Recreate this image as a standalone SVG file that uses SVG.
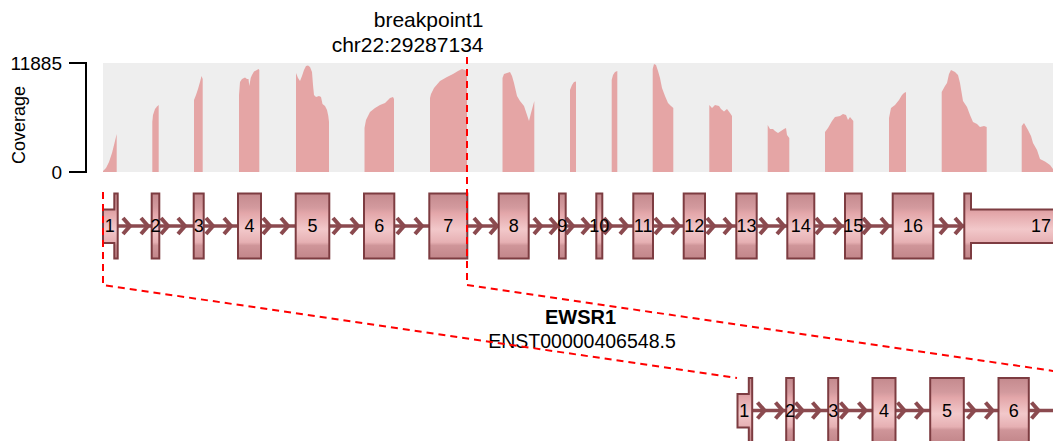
<svg xmlns="http://www.w3.org/2000/svg" width="1053" height="441" viewBox="0 0 1053 441">
<defs>
<style>
text{font-family:"Liberation Sans",Arial,sans-serif;fill:#000}
.cov{fill:#e5a5a5}
.ex{fill:url(#exg);stroke:#7d3c41;stroke-width:2}
.lbl{font-size:18px;text-anchor:middle}
.intron{stroke:#8b4a4f;stroke-width:3.5;fill:none}
.chev{stroke:#8b4a4f;stroke-width:4;fill:none}
.bp{stroke:#ff0000;stroke-width:2;fill:none;stroke-dasharray:7 5}
.ax{stroke:#000;stroke-width:2;fill:none}
</style>
<linearGradient id="exg" x1="0" y1="0" x2="0" y2="1">
<stop offset="0" stop-color="#c48a8e"/>
<stop offset="0.22" stop-color="#d39a9e"/>
<stop offset="0.3" stop-color="#e3a6a9"/>
<stop offset="0.55" stop-color="#f2c8ca"/>
<stop offset="0.75" stop-color="#e6b0b3"/>
<stop offset="0.8" stop-color="#cf9599"/>
<stop offset="1" stop-color="#c2868a"/>
</linearGradient>
<path id="ch" class="chev" d="M-7,-8 L0,0 L-7,8"/>
</defs>

<g id="coverage-track">
<rect x="103" y="63" width="950" height="109" fill="#eeeeee"/>
<path class="cov" d="M103,172 V171 L106,168 L109,162 L112,153 L115,141 L116.7,134 V172Z"/>
<path class="cov" d="M152.3,172 V122 L153,115 L155,109 L157,106.5 L158.7,105 V172Z"/>
<path class="cov" d="M194,172 V100 L196,95 L198,89 L200,82 L201.5,76 L202.7,79 V172Z"/>
<path class="cov" d="M239,172 V95 L240,82 L242,79 L245,77.5 L247,79 L248.5,79 L249.3,86 L250.7,78 L252,75 L254,71.5 L256,70.5 L258.5,69 L259.3,70 V172Z"/>
<path class="cov" d="M296,172 V73 L298,78 L300,81 L302,76 L304,70 L306,66 L308,65.5 L310,67 L312,72 L313,85 L314,95 L316,97 L319,96 L321,97 L322.5,104 L325,106 L327,110 L328.3,116 L329,122 V172Z"/>
<path class="cov" d="M364.5,172 V128 L366,120 L370,112 L375,108 L380,105 L385,103 L390,98 L393,97 L394,99 V172Z"/>
<path class="cov" d="M430,172 V98 L431,94 L434,88 L440,81 L447,77 L453,74 L458,71 L462,69 L465,70 L467,71 V172Z"/>
<path class="cov" d="M502.5,172 V78 L504,74 L507,73 L510,72 L512,76 L514,83 L517,96 L520,101 L524,106 L527,115 L529,121 L531,113 L534.3,101 V172Z"/>
<path class="cov" d="M570,172 V90 L572,85 L574,82 L576,81.5 V172Z"/>
<path class="cov" d="M611.7,172 V80 L613,75 L615,72 L617.3,71 V172Z"/>
<path class="cov" d="M652.7,172 V69 L654,64 L656,65 L658,71 L660,78 L662,88 L665,96 L668,103 L671,106 L673.3,108 V172Z"/>
<path class="cov" d="M709.3,172 V105 L712,108 L715,105 L719,106 L721,109 L724,111.5 L727,109 L730,113 L732,116 V172Z"/>
<path class="cov" d="M767.7,172 V125 L770,129 L773,129 L775,131 L778,133 L781,131 L784,129 L786,128 L787,135 L789.3,138 V172Z"/>
<path class="cov" d="M825,172 V132 L828,128 L832,121 L835,117 L840,116 L843,114 L846,115 L848,120 L850,117 L853.3,121 V172Z"/>
<path class="cov" d="M889,172 V118 L891,108 L895,105 L899,100 L902,95 L904,93 L906,92 V172Z"/>
<path class="cov" d="M941.7,172 V92 L945,86 L947,83 L949,74 L951,70 L955,72 L958,75 L960,83 L963,101 L967,107 L970,115 L973,122 L977,124 L980,127 L984,126 L986.7,127 V172Z"/>
<path class="cov" d="M1021.7,172 V126 L1024,123 L1028,130 L1031,136 L1033,143 L1037,150 L1040,159 L1045,161.5 L1050,165 L1053,169 V172Z"/>
</g>

<g id="coverage-axis">
<path class="ax" d="M69,63 H86 V172 H69"/>
<text x="62" y="70" font-size="19" text-anchor="end">11885</text>
<text x="62" y="179" font-size="19" text-anchor="end">0</text>
<text transform="translate(25,125) rotate(-90)" font-size="18" text-anchor="middle">Coverage</text>
</g>

<g id="breakpoint-label">
<text x="483.5" y="27" font-size="21" text-anchor="end">breakpoint1</text>
<text x="483.5" y="52" font-size="21" text-anchor="end">chr22:29287134</text>
</g>

<g id="transcript-top">
<path class="intron" d="M103,226 H1053"/>
<g id="strand-arrows-top">
<use href="#ch" x="130" y="226"/><use href="#ch" x="148" y="226"/>
<use href="#ch" x="168" y="226"/><use href="#ch" x="185" y="226"/>
<use href="#ch" x="213" y="226"/><use href="#ch" x="231" y="226"/>
<use href="#ch" x="270" y="226"/><use href="#ch" x="288" y="226"/>
<use href="#ch" x="340" y="226"/><use href="#ch" x="358" y="226"/>
<use href="#ch" x="404" y="226"/><use href="#ch" x="422" y="226"/>
<use href="#ch" x="481" y="226"/><use href="#ch" x="497" y="226"/>
<use href="#ch" x="541" y="226"/><use href="#ch" x="557" y="226"/>
<use href="#ch" x="573" y="226"/><use href="#ch" x="589" y="226"/>
<use href="#ch" x="611" y="226"/><use href="#ch" x="627" y="226"/>
<use href="#ch" x="662" y="226"/><use href="#ch" x="679" y="226"/>
<use href="#ch" x="714" y="226"/><use href="#ch" x="731" y="226"/>
<use href="#ch" x="767" y="226"/><use href="#ch" x="784" y="226"/>
<use href="#ch" x="823" y="226"/><use href="#ch" x="841" y="226"/>
<use href="#ch" x="870" y="226"/><use href="#ch" x="888" y="226"/>
<use href="#ch" x="947" y="226"/><use href="#ch" x="962" y="226"/>
</g>
<g id="exon1"><path class="ex" d="M103,209.5 H114.3 V193.5 H117.7 V258.5 H114.3 V243 H103 Z"/><text class="lbl" x="109.7" y="232.4">1</text></g>
<g id="exon2"><rect class="ex" x="151.7" y="193.5" width="7.6" height="65"/><text class="lbl" x="155.5" y="232.4">2</text></g>
<g id="exon3"><rect class="ex" x="193.7" y="193.5" width="10" height="65"/><text class="lbl" x="198.7" y="232.4">3</text></g>
<g id="exon4"><rect class="ex" x="238" y="193.5" width="23" height="65"/><text class="lbl" x="249.5" y="232.4">4</text></g>
<g id="exon5"><rect class="ex" x="295.7" y="193.5" width="33.6" height="65"/><text class="lbl" x="312.5" y="232.4">5</text></g>
<g id="exon6"><rect class="ex" x="364" y="193.5" width="30.3" height="65"/><text class="lbl" x="379.2" y="232.4">6</text></g>
<g id="exon7"><rect class="ex" x="429.3" y="193.5" width="38" height="65"/><text class="lbl" x="448.3" y="232.4">7</text></g>
<g id="exon8"><rect class="ex" x="498.7" y="193.5" width="30" height="65"/><text class="lbl" x="513.7" y="232.4">8</text></g>
<g id="exon9"><rect class="ex" x="559" y="193.5" width="6.7" height="65"/><text class="lbl" x="562.3" y="232.4">9</text></g>
<g id="exon10"><rect class="ex" x="596.3" y="193.5" width="6" height="65"/><text class="lbl" x="599.3" y="232.4">10</text></g>
<g id="exon11"><rect class="ex" x="633.3" y="193.5" width="19.7" height="65"/><text class="lbl" x="643.2" y="232.4">11</text></g>
<g id="exon12"><rect class="ex" x="683.7" y="193.5" width="21.3" height="65"/><text class="lbl" x="694.3" y="232.4">12</text></g>
<g id="exon13"><rect class="ex" x="736.3" y="193.5" width="20.4" height="65"/><text class="lbl" x="746.5" y="232.4">13</text></g>
<g id="exon14"><rect class="ex" x="787.3" y="193.5" width="27" height="65"/><text class="lbl" x="800.8" y="232.4">14</text></g>
<g id="exon15"><rect class="ex" x="845" y="193.5" width="16.7" height="65"/><text class="lbl" x="853.3" y="232.4">15</text></g>
<g id="exon16"><rect class="ex" x="892.7" y="193.5" width="40.6" height="65"/><text class="lbl" x="913" y="232.4">16</text></g>
<g id="exon17"><path class="ex" d="M964.3,193.5 H971 V209.5 H1070 V243 H971 V258.5 H964.3 Z"/><text class="lbl" x="1041" y="232.4">17</text></g>
</g>

<g id="gene-label">
<text x="580.5" y="323.5" font-size="20" font-weight="bold" text-anchor="middle">EWSR1</text>
<text x="582" y="347.5" font-size="19.5" text-anchor="middle">ENST00000406548.5</text>
</g>

<g id="transcript-bottom" transform="translate(634.5,184.5)">
<path class="intron" d="M103,226 H420"/>
<g id="strand-arrows-bottom">
<use href="#ch" x="130" y="226"/><use href="#ch" x="148" y="226"/>
<use href="#ch" x="168" y="226"/><use href="#ch" x="185" y="226"/>
<use href="#ch" x="213" y="226"/><use href="#ch" x="231" y="226"/>
<use href="#ch" x="270" y="226"/><use href="#ch" x="288" y="226"/>
<use href="#ch" x="340" y="226"/><use href="#ch" x="358" y="226"/>
<use href="#ch" x="404" y="226"/>
</g>
<g id="exon1-b"><path class="ex" d="M103,209.5 H114.3 V193.5 H117.7 V258.5 H114.3 V243 H103 Z"/><text class="lbl" x="109.7" y="232.4">1</text></g>
<g id="exon2-b"><rect class="ex" x="151.7" y="193.5" width="7.6" height="65"/><text class="lbl" x="155.5" y="232.4">2</text></g>
<g id="exon3-b"><rect class="ex" x="193.7" y="193.5" width="10" height="65"/><text class="lbl" x="198.7" y="232.4">3</text></g>
<g id="exon4-b"><rect class="ex" x="238" y="193.5" width="23" height="65"/><text class="lbl" x="249.5" y="232.4">4</text></g>
<g id="exon5-b"><rect class="ex" x="295.7" y="193.5" width="33.6" height="65"/><text class="lbl" x="312.5" y="232.4">5</text></g>
<g id="exon6-b"><rect class="ex" x="364" y="193.5" width="30.3" height="65"/><text class="lbl" x="379.2" y="232.4">6</text></g>
</g>

<g id="connectors">
<path class="bp" d="M467,57 V285 L1101,378"/>
<path class="bp" d="M103,192 V285 L737,378"/>
</g>
</svg>
